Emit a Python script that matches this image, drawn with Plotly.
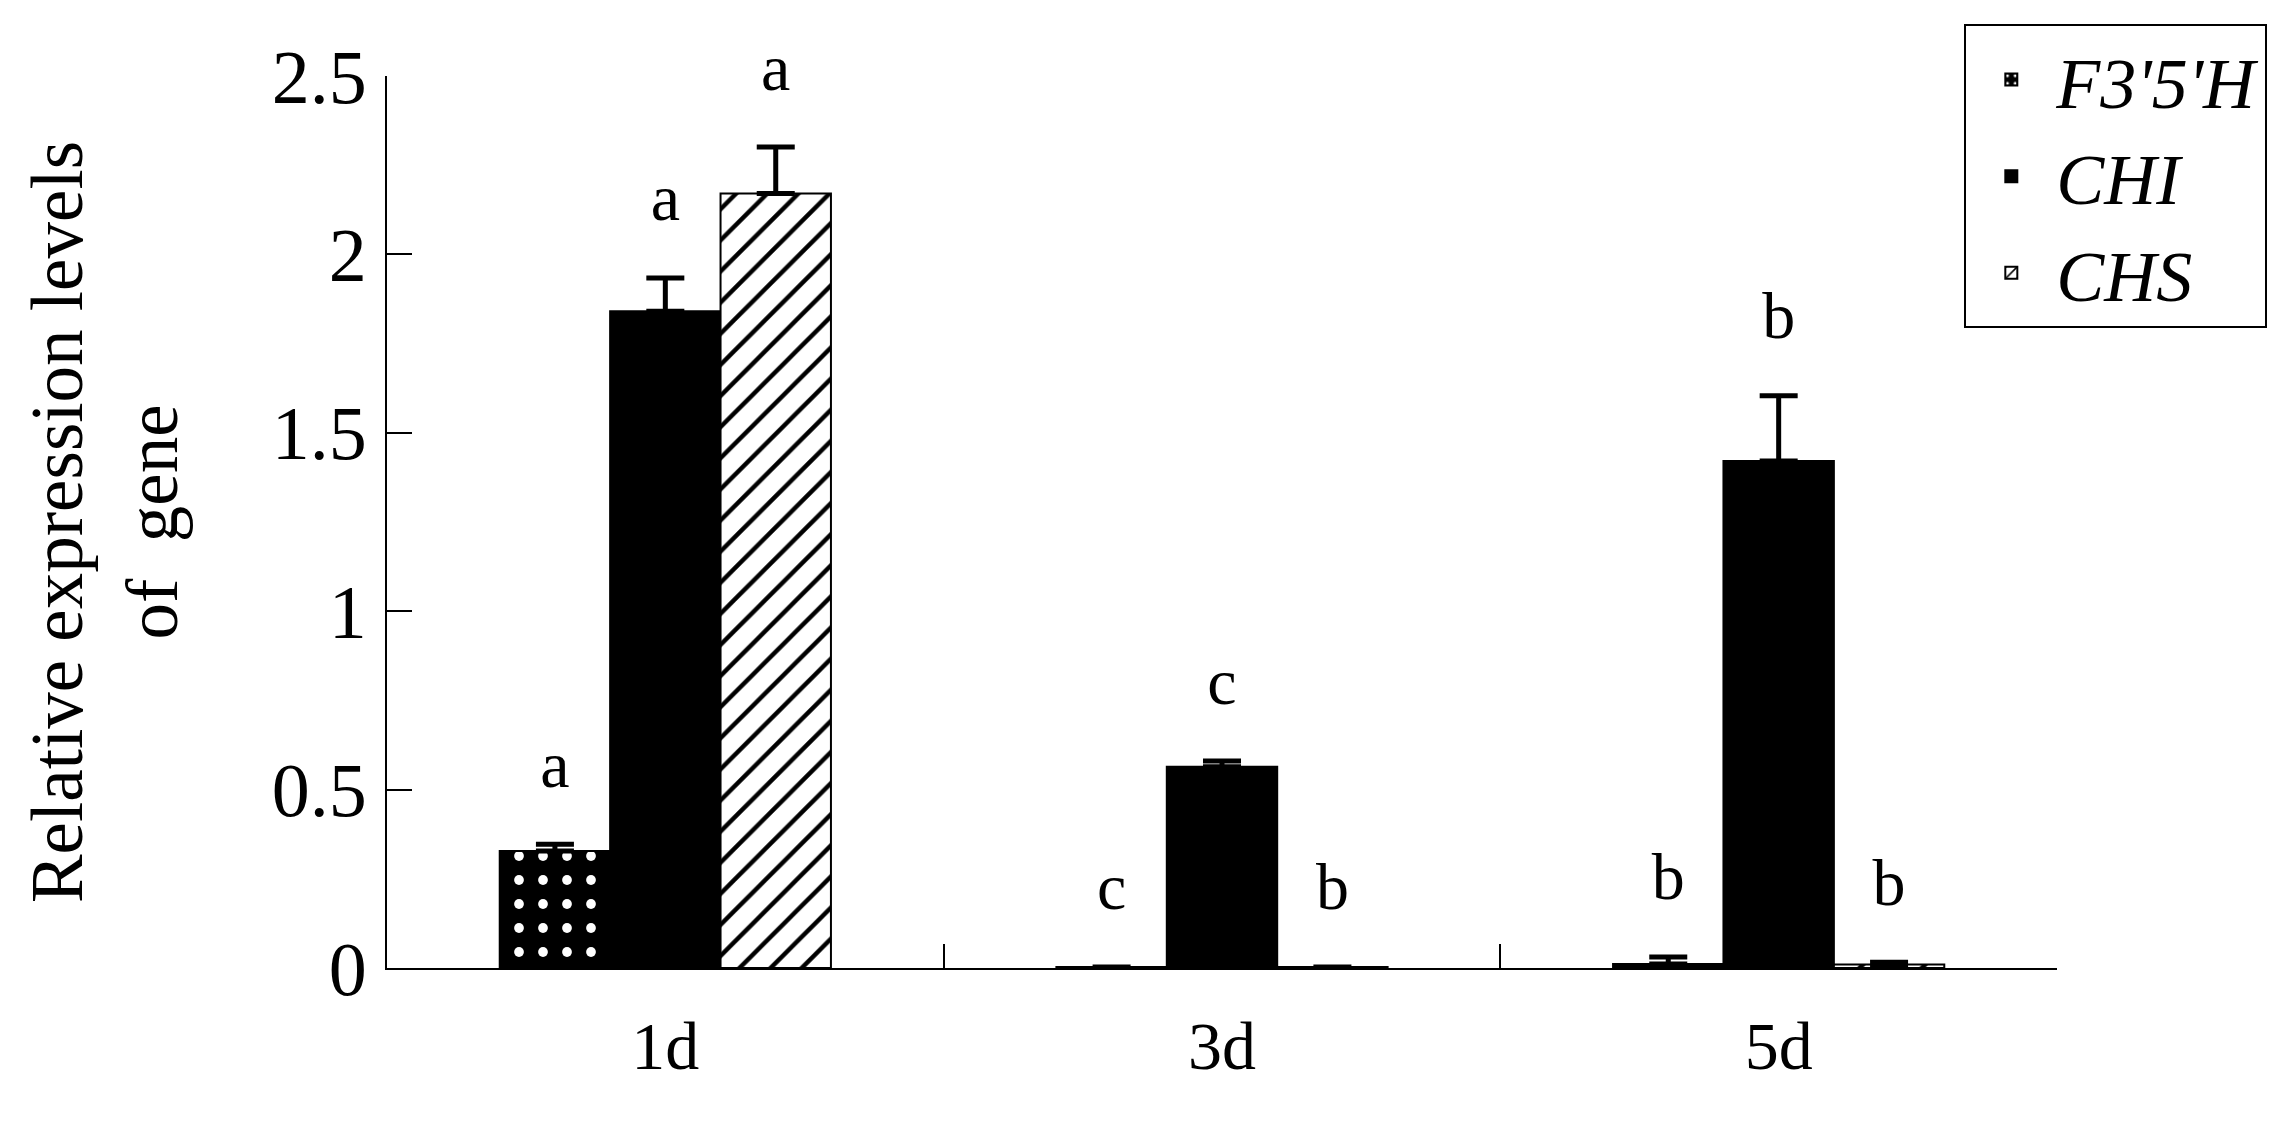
import plotly.graph_objects as go

categories = ["1d", "3d", "5d"]
series_names = ["F3'5'H", "CHI", "CHS"]

f35h_vals = [0.328, 0.003, 0.011]
f35h_err = [0.019, 0.0, 0.02]
chi_vals = [1.841, 0.564, 1.421]
chi_err = [0.093, 0.016, 0.183]
chs_vals = [2.171, 0.003, 0.010]
chs_err = [0.13, 0.0, 0.006]

f35h_letters = ["a", "c", "b"]
chi_letters = ["a", "c", "b"]
chs_letters = ["a", "b", "b"]

y_ticks = [0, 0.5, 1, 1.5, 2, 2.5]
y_ticktext = ["0", "0.5", "1", "1.5", "2", "2.5"]

FONT = "Liberation Serif"
GAP = 0.405

styles = [
    dict(marker=dict(color="black", line=dict(color="black", width=2),
                     pattern=dict(shape=".", bgcolor="black", fgcolor="white",
                                  size=24, solidity=0.13, fillmode="replace"))),
    dict(marker=dict(color="black", line=dict(color="black", width=2))),
    dict(marker=dict(color="white", line=dict(color="black", width=2),
                     pattern=dict(shape="/", bgcolor="white", fgcolor="black",
                                  size=22, solidity=0.2, fillmode="replace"))),
]

vals = [f35h_vals, chi_vals, chs_vals]
errs = [f35h_err, chi_err, chs_err]
letters = [f35h_letters, chi_letters, chs_letters]

fig = go.Figure()
for name, v, e, st in zip(series_names, vals, errs, styles):
    fig.add_trace(go.Bar(
        x=categories, y=v, name=name, offsetgroup=name,
        error_y=dict(type="data", array=e, arrayminus=[0] * len(e), symmetric=False,
                     color="black", thickness=5, width=19),
        hoverinfo="skip", **st))

for name, v, e, lt in zip(series_names, vals, errs, letters):
    fig.add_trace(go.Scatter(
        x=categories, y=[a + b for a, b in zip(v, e)], text=lt,
        mode="markers+text", textposition="top center",
        marker=dict(size=64, opacity=0), offsetgroup=name,
        textfont=dict(family=FONT, size=66, color="black"),
        showlegend=False, hoverinfo="skip", cliponaxis=False))

fig.update_layout(
    width=2288, height=1123,
    margin=dict(l=379, r=239, t=68, b=163),
    paper_bgcolor="white", plot_bgcolor="white",
    barmode="group", bargap=GAP, bargroupgap=0,
    scattermode="group", scattergap=GAP,
    font=dict(family=FONT, color="black"),
    showlegend=True,
    legend=dict(x=0.9445, y=1.058, xanchor="left", yanchor="top",
                bordercolor="black", borderwidth=2, bgcolor="white",
                font=dict(family=FONT, size=72, style="italic", color="black"),
                tracegroupgap=0, itemwidth=80),
    xaxis=dict(type="category", showline=True, linecolor="black", linewidth=2,
               ticks="inside", ticklen=24, tickwidth=2, tickcolor="black",
               tickson="boundaries", showgrid=False, zeroline=False,
               tickfont=dict(family=FONT, size=68), ticklabelstandoff=17,
               range=[-0.5, 2.5]),
    yaxis=dict(range=[0, 2.5], tickvals=y_ticks, ticktext=y_ticktext,
               showline=True, linecolor="black", linewidth=2,
               ticks="inside", ticklen=25, tickwidth=2, tickcolor="black",
               showgrid=False, zeroline=False,
               tickfont=dict(family=FONT, size=76), ticklabelstandoff=3,
               title=dict(text="Relative expression levels<br>of  gene",
                          font=dict(family=FONT, size=73), standoff=70)),
)

fig.write_html("out.html")
